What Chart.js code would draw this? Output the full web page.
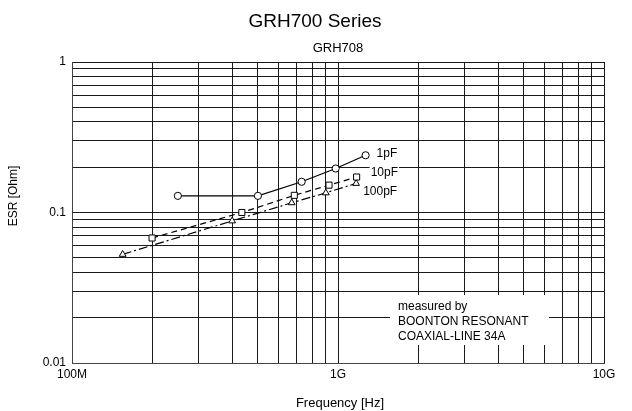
<!DOCTYPE html>
<html>
<head>
<meta charset="utf-8">
<title>GRH700 Series</title>
<script src="https://cdn.jsdelivr.net/npm/chart.js@4.4.1/dist/chart.umd.min.js"></script>
<style>
  html, body { margin: 0; padding: 0; background: #fff; }
  #wrap { position: relative; width: 632px; height: 411px; }
</style>
</head>
<body>
<div id="wrap"><canvas id="esr"></canvas></div>
<script>
// ESR vs frequency, GRH708 chip capacitors (frequency in Hz, ESR in Ohm)
const freq1pF   = [2.5e8, 5.0e8, 7.3e8, 9.8e8, 1.27e9];
const esr1pF    = [0.129, 0.129, 0.160, 0.196, 0.240];
const freq10pF  = [2.0e8, 4.35e8, 6.85e8, 9.25e8, 1.175e9];
const esr10pF   = [0.0677, 0.100, 0.130, 0.152, 0.172];
const freq100pF = [1.55e8, 4.0e8, 6.7e8, 9.0e8, 1.17e9];
const esr100pF  = [0.0527, 0.0879, 0.116, 0.135, 0.156];
const seriesNames = ['1pF', '10pF', '100pF'];

// grid positions and decade labels
const xGrid = [1e8, 2e8, 3e8, 4e8, 5e8, 6e8, 7e8, 8e8, 9e8,
               1e9, 2e9, 3e9, 4e9, 5e9, 6e9, 7e9, 8e9, 9e9, 1e10];
const xLabelValues = [1e8, 1e9, 1e10];
const xLabelText   = ['100M', '1G', '10G'];
const yGrid = [0.01, 0.02, 0.03, 0.04, 0.05, 0.06, 0.07, 0.08, 0.09,
               0.1, 0.2, 0.3, 0.4, 0.5, 0.6, 0.7, 0.8, 0.9, 1];
const yLabelValues = [0.01, 0.1, 1];
const yLabelText   = ['0.01', '0.1', '1'];

const noteLines = ['measured by', 'BOONTON RESONANT', 'COAXIAL-LINE 34A'];

const FONT = '"Liberation Sans", Arial, Helvetica, sans-serif';

function pairs(xs, ys) { return xs.map((x, i) => ({ x: x, y: ys[i] })); }
function labelFor(v, values, texts) {
  for (let i = 0; i < values.length; i++) {
    if (Math.abs(Math.log10(v) - Math.log10(values[i])) < 1e-6) return texts[i];
  }
  return '';
}

const seriesStyle = (pointStyle, radius, dash) => ({
  borderColor: '#000',
  borderWidth: 1.2,
  borderDash: dash,
  pointStyle: pointStyle,
  pointRadius: radius,
  pointHoverRadius: radius,
  pointBackgroundColor: '#fff',
  pointBorderColor: '#000',
  pointBorderWidth: 1,
  fill: false,
  tension: 0
});

// curve names next to the last point of each series, on a white patch
const labelOffsets = [[11, -2], [14, -4], [7, 8]];

const decorations = {
  id: 'decorations',
  beforeDatasetsDraw(chart) {
    const ctx = chart.ctx;
    ctx.save();
    // white note box over the grid
    ctx.fillStyle = '#fff';
    ctx.fillRect(390, 295, 159, 50);
    ctx.fillStyle = '#000';
    ctx.font = '12px ' + FONT;
    ctx.textAlign = 'left';
    ctx.textBaseline = 'alphabetic';
    noteLines.forEach((t, i) => ctx.fillText(t, 398, 310 + i * 15));

    // curve labels
    chart.data.datasets.forEach((ds, i) => {
      const meta = chart.getDatasetMeta(i);
      const last = meta.data[meta.data.length - 1];
      const x = last.x + labelOffsets[i][0];
      const y = last.y + labelOffsets[i][1];
      const w = ctx.measureText(ds.label).width;
      ctx.fillStyle = '#fff';
      ctx.fillRect(x - 1, y - 7, w + 2, 14);
      ctx.fillStyle = '#000';
      ctx.textBaseline = 'middle';
      ctx.fillText(ds.label, x, y);
    });
    ctx.restore();
  },
  afterDraw(chart) {
    const ctx = chart.ctx;
    const area = chart.chartArea;
    ctx.save();
    ctx.fillStyle = '#000';
    ctx.textAlign = 'center';
    ctx.textBaseline = 'alphabetic';
    ctx.font = '19px ' + FONT;
    ctx.fillText('GRH700 Series', 315, 27);
    ctx.font = '13px ' + FONT;
    ctx.fillText('GRH708', (area.left + area.right) / 2, 52);
    ctx.fillText('Frequency [Hz]', (area.left + area.right) / 2 + 2, 407);
    ctx.font = '12px ' + FONT;
    ctx.translate(17, 196);
    ctx.rotate(-Math.PI / 2);
    ctx.fillText('ESR [Ohm]', 0, 0);
    ctx.restore();
  }
};

new Chart(document.getElementById('esr'), {
  type: 'line',
  data: {
    datasets: [
      Object.assign({ label: seriesNames[0], data: pairs(freq1pF, esr1pF) }, seriesStyle('circle', 3.6, [])),
      Object.assign({ label: seriesNames[1], data: pairs(freq10pF, esr10pF) }, seriesStyle('rect', 4.3, [6, 4])),
      Object.assign({ label: seriesNames[2], data: pairs(freq100pF, esr100pF) }, seriesStyle('triangle', 3.9, [9, 3, 2, 3]))
    ]
  },
  options: {
    responsive: true,
    maintainAspectRatio: false,
    animation: false,
    events: [],
    layout: { padding: { left: 0, right: 28, top: 62, bottom: 0 } },
    plugins: {
      legend: { display: false },
      title: { display: false },
      tooltip: { enabled: false }
    },
    scales: {
      x: {
        type: 'logarithmic',
        min: 1e8,
        max: 1e10,
        afterBuildTicks(scale) { scale.ticks = xGrid.map(v => ({ value: v })); },
        afterFit(scale) { scale.height = 48; },
        grid: { color: '#1a1a1a', lineWidth: 1, drawTicks: false },
        border: { display: true, color: '#444', width: 1 },
        ticks: {
          autoSkip: false,
          maxRotation: 0,
          padding: 4,
          color: '#000',
          font: { family: FONT, size: 12 },
          callback: (v) => labelFor(v, xLabelValues, xLabelText)
        }
      },
      y: {
        type: 'logarithmic',
        min: 0.01,
        max: 1,
        afterBuildTicks(scale) { scale.ticks = yGrid.map(v => ({ value: v })); },
        afterFit(scale) { scale.width = 72; },
        grid: { color: '#1a1a1a', lineWidth: 1, drawTicks: false },
        border: { display: true, color: '#444', width: 1 },
        ticks: {
          autoSkip: false,
          padding: 6,
          color: '#000',
          font: { family: FONT, size: 12 },
          callback: (v) => labelFor(v, yLabelValues, yLabelText)
        }
      }
    }
  },
  plugins: [decorations]
});
</script>
</body>
</html>
